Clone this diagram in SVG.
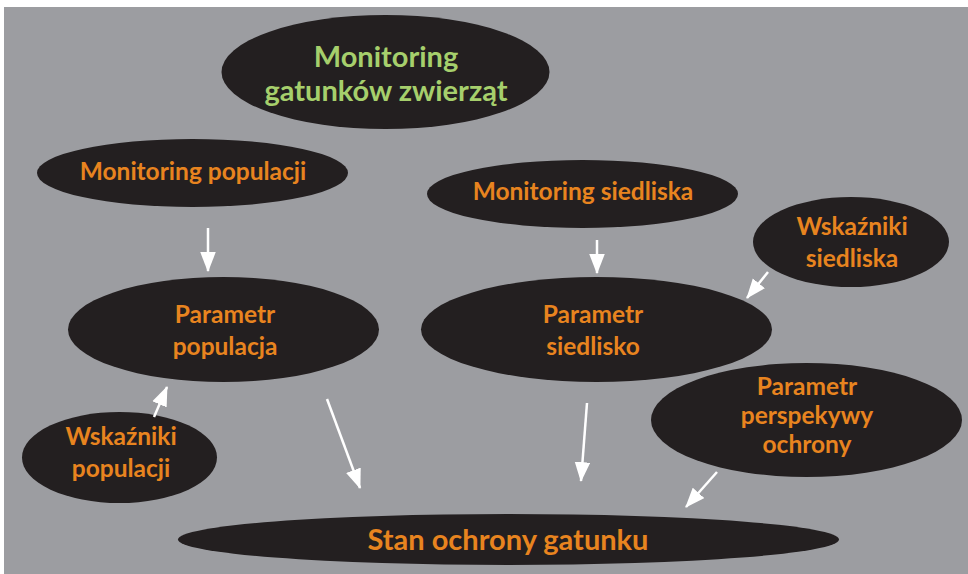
<svg xmlns="http://www.w3.org/2000/svg" width="968" height="574" viewBox="0 0 968 574">
<style>
.n{fill:#231f20}
.t{font-family:Lato,"Liberation Sans",sans-serif;font-weight:bold;fill:#e8841f;text-anchor:middle;font-size:24.5px}
.b{font-size:29px}
.g{fill:#a6cf6c}
.c line{stroke:#fff;stroke-width:2.5;marker-end:url(#ah)}
</style>
<defs>
<marker id="ah" markerUnits="userSpaceOnUse" markerWidth="20" markerHeight="16" viewBox="0 0 18 14" refX="17" refY="7" orient="auto">
<path d="M0,0 L18,7 L0,14 Z" fill="#fff"/>
</marker>
</defs>
<rect x="0" y="0" width="968" height="574" fill="#fff"/>
<rect x="4" y="7" width="964" height="567" fill="#9c9da1"/>
<g id="n-monitoring-gatunkow">
<ellipse class="n" cx="385.5" cy="72" rx="164" ry="57"/>
<text class="t b g" x="386" y="67">Monitoring</text>
<text class="t b g" x="386" y="101">gatunków zwierząt</text>
</g>
<g id="n-monitoring-populacji">
<ellipse class="n" cx="192.5" cy="173" rx="155.5" ry="34"/>
<text class="t" x="193" y="180">Monitoring populacji</text>
</g>
<g id="n-parametr-populacja">
<ellipse class="n" cx="223.5" cy="329.5" rx="155.5" ry="52.5"/>
<text class="t" x="225" y="323">Parametr</text>
<text class="t" x="225" y="355">populacja</text>
</g>
<g id="n-monitoring-siedliska">
<ellipse class="n" cx="582.5" cy="194" rx="155.5" ry="34"/>
<text class="t" x="583" y="200">Monitoring siedliska</text>
</g>
<g id="n-parametr-siedlisko">
<ellipse class="n" cx="596.5" cy="329.5" rx="175.5" ry="52.5"/>
<text class="t" x="593" y="323">Parametr</text>
<text class="t" x="593" y="355">siedlisko</text>
</g>
<g id="n-wskazniki-siedliska">
<ellipse class="n" cx="851" cy="242" rx="98" ry="45"/>
<text class="t" x="852" y="235">Wskaźniki</text>
<text class="t" x="852" y="267">siedliska</text>
</g>
<g id="n-parametr-perspektywy">
<ellipse class="n" cx="806.5" cy="420" rx="155.5" ry="57"/>
<text class="t" x="807" y="395">Parametr</text>
<text class="t" x="807" y="424">perspekywy</text>
<text class="t" x="807" y="453">ochrony</text>
</g>
<g id="n-wskazniki-populacji">
<ellipse class="n" cx="119.5" cy="457.5" rx="97.5" ry="45.5"/>
<text class="t" x="121" y="445">Wskaźniki</text>
<text class="t" x="121" y="477">populacji</text>
</g>
<g id="n-stan-ochrony">
<ellipse class="n" cx="508.5" cy="539.5" rx="330.5" ry="25.5"/>
<text class="t b" x="508" y="550">Stan ochrony gatunku</text>
</g>
<g id="connectors" class="c">
<line x1="208" y1="228" x2="208" y2="271"/>
<line x1="597" y1="240" x2="597" y2="273"/>
<line x1="768" y1="272" x2="747" y2="298"/>
<line x1="717" y1="472" x2="686" y2="507"/>
<line x1="154" y1="417" x2="167" y2="387"/>
<line x1="327" y1="399" x2="360" y2="488"/>
<line x1="587" y1="403" x2="581" y2="481"/>
</g>
</svg>
